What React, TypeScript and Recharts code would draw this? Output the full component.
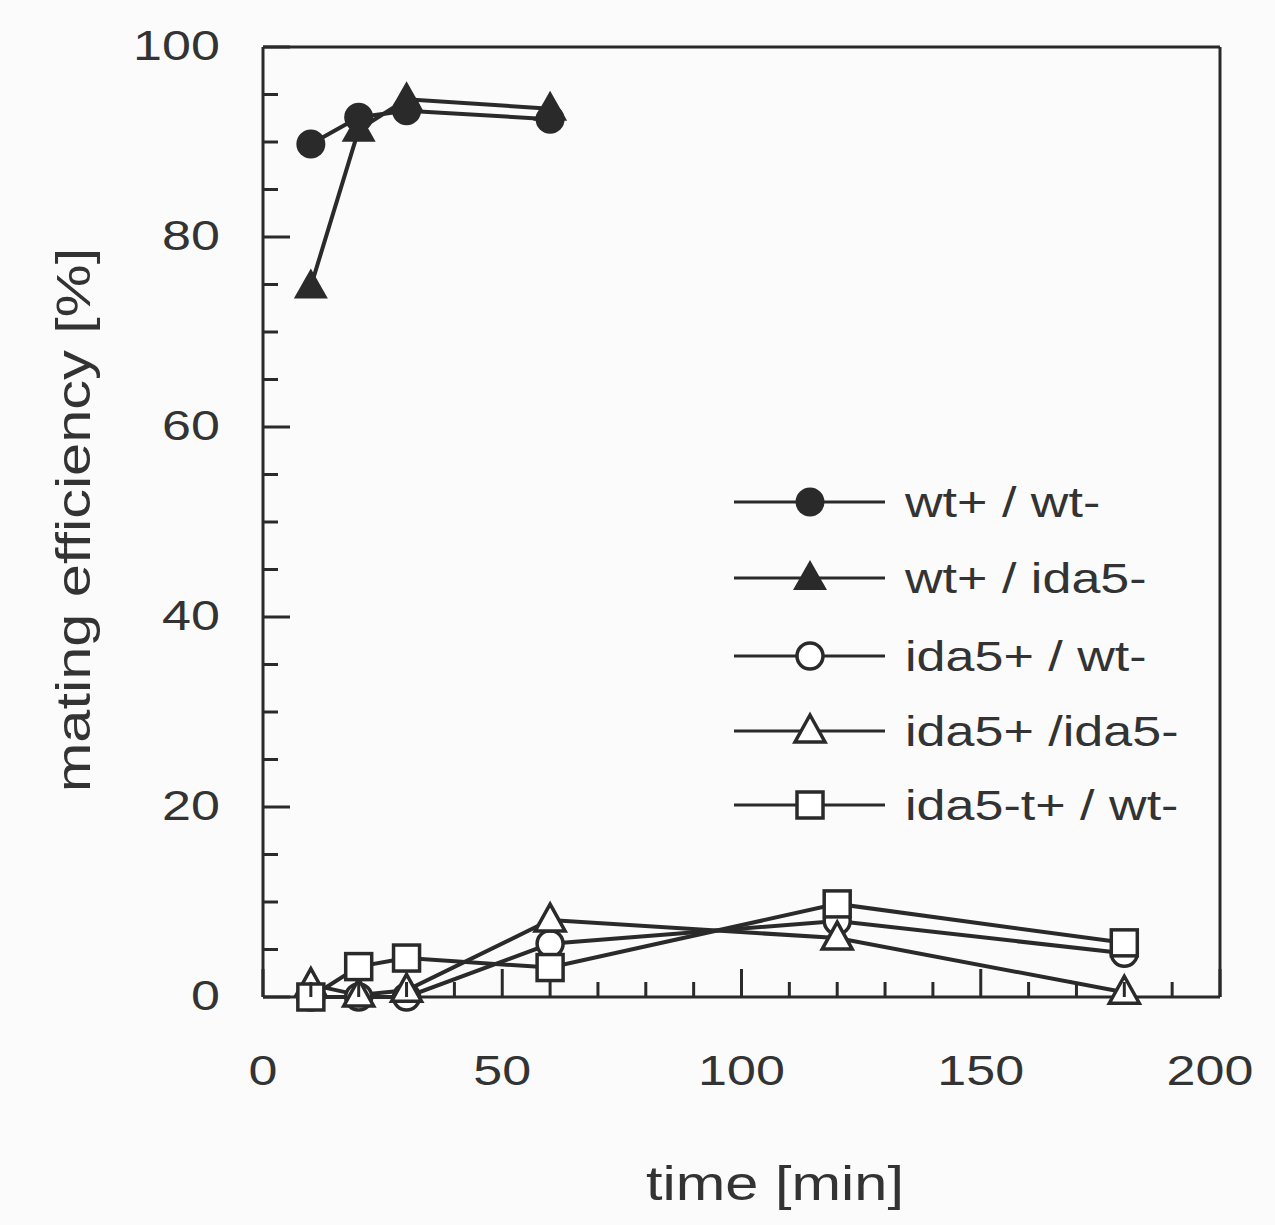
import React from 'react';
import { LineChart, Line, XAxis, YAxis, ReferenceLine } from 'recharts';

const INK = '#2a2a2a';
const TEXT = '#333';
const FONT = '"Liberation Sans", Arial, sans-serif';
const STRETCH = 1.24;

// sampling times [min]
const shortTimes = [10, 20, 30, 60];
const longTimes = [10, 20, 30, 60, 120, 180];

// mating efficiency [%]
const wtPlusWtMinus = [89.8, 92.6, 93.3, 92.4];
const wtPlusIda5Minus = [74.8, 91.3, 94.5, 93.5];
const ida5PlusWtMinus = [0, 0, 0, 5.6, 8.0, 4.6];
const ida5PlusIda5Minus = [1.3, 0.2, 0.7, 8.1, 6.2, 0.5];
const ida5tPlusWtMinus = [0, 3.2, 4.1, 3.1, 9.8, 5.7];

const xTicks = [0, 10, 20, 30, 40, 50, 60, 70, 80, 90, 100, 110, 120, 130, 140, 150, 160, 170, 180, 190, 200];
const xLabels = [0, 50, 100, 150, 200];
const yTicks = [0, 5, 10, 15, 20, 25, 30, 35, 40, 45, 50, 55, 60, 65, 70, 75, 80, 85, 90, 95, 100];
const yLabels = [0, 20, 40, 60, 80, 100];

type Shape = 'dot' | 'tri' | 'circle' | 'openTri' | 'square';

const series: { name: string; shape: Shape; times: number[]; values: number[] }[] = [
  { name: 'wt+ / wt-', shape: 'dot', times: shortTimes, values: wtPlusWtMinus },
  { name: 'wt+ / ida5-', shape: 'tri', times: shortTimes, values: wtPlusIda5Minus },
  { name: 'ida5+ / wt-', shape: 'circle', times: longTimes, values: ida5PlusWtMinus },
  { name: 'ida5+ /ida5-', shape: 'openTri', times: longTimes, values: ida5PlusIda5Minus },
  { name: 'ida5-t+ / wt-', shape: 'square', times: longTimes, values: ida5tPlusWtMinus },
];

function toRows(times: number[], values: number[]) {
  return times.map((t, i) => ({ t, v: values[i] }));
}

function Marker({ shape, cx, cy }: { shape: Shape; cx: number; cy: number }) {
  switch (shape) {
    case 'dot':
      return <circle cx={cx} cy={cy} r={14.5} fill={INK} />;
    case 'tri':
      return <polygon points={`${cx},${cy - 18} ${cx - 17},${cy + 12} ${cx + 17},${cy + 12}`} fill={INK} />;
    case 'circle':
      return <circle cx={cx} cy={cy} r={13} fill="#fff" stroke={INK} strokeWidth={3.5} />;
    case 'openTri':
      return (
        <polygon
          points={`${cx},${cy - 16} ${cx - 15},${cy + 11} ${cx + 15},${cy + 11}`}
          fill="#fff"
          stroke={INK}
          strokeWidth={3.5}
        />
      );
    default:
      return <rect x={cx - 13} y={cy - 13} width={26} height={26} fill="#fff" stroke={INK} strokeWidth={3.5} />;
  }
}

function Label({ x, y, size, anchor, rotate, children }: any) {
  const tf = `translate(${x} ${y})${rotate ? ` rotate(${rotate})` : ''} scale(${STRETCH} 1)`;
  return (
    <text transform={tf} textAnchor={anchor} fontSize={size} fontFamily={FONT} fill={TEXT}>
      {children}
    </text>
  );
}

function XTick({ x, y, payload }: any) {
  const v = payload.value;
  const major = v % 50 === 0;
  return (
    <g>
      <line x1={x} x2={x} y1={y} y2={y - (major ? 28 : 15)} stroke={INK} strokeWidth={3} />
      {xLabels.includes(v) && (
        <Label x={v === 200 ? x - 10 : x} y={y + 88} size={42} anchor="middle">
          {v}
        </Label>
      )}
    </g>
  );
}

function YTick({ x, y, payload }: any) {
  const v = payload.value;
  const major = v % 20 === 0;
  return (
    <g>
      <line x1={x} x2={x + (major ? 27 : 15)} y1={y} y2={y} stroke={INK} strokeWidth={3} />
      {yLabels.includes(v) && (
        <Label x={x - 43} y={y + 13} size={42} anchor="end">
          {v}
        </Label>
      )}
    </g>
  );
}

function LegendBox() {
  const rows = [502, 578, 656, 731, 805];
  return (
    <svg width={1275} height={1225} style={{ position: 'absolute', left: 0, top: 0, pointerEvents: 'none' }}>
      {series.map((s, i) => (
        <g key={s.name}>
          <line x1={734} x2={885} y1={rows[i]} y2={rows[i]} stroke={INK} strokeWidth={3} />
          <Marker shape={s.shape} cx={810} cy={rows[i]} />
          <Label x={905} y={rows[i] + 15} size={42} anchor="start">
            {s.name}
          </Label>
        </g>
      ))}
    </svg>
  );
}

export default function App() {
  return (
    <div style={{ position: 'absolute', left: 0, top: 0, width: 1275, height: 1225, background: '#fbfbfb' }}>
      <LineChart width={1275} height={1225} margin={{ top: 47, right: 55, left: 0, bottom: 0 }}>
        <XAxis
          type="number"
          dataKey="t"
          domain={[0, 200]}
          ticks={xTicks}
          interval={0}
          height={228}
          tickSize={0}
          tickMargin={0}
          tick={<XTick />}
          axisLine={{ stroke: INK, strokeWidth: 3 }}
          allowDuplicatedCategory={false}
        />
        <YAxis
          type="number"
          domain={[0, 100]}
          ticks={yTicks}
          interval={0}
          width={263}
          tickSize={0}
          tickMargin={0}
          tick={<YTick />}
          axisLine={{ stroke: INK, strokeWidth: 3 }}
        />
        <ReferenceLine y={100} stroke={INK} strokeWidth={3} />
        <ReferenceLine x={200} stroke={INK} strokeWidth={3} />
        {series.map((s) => (
          <Line
            key={s.name}
            data={toRows(s.times, s.values)}
            dataKey="v"
            name={s.name}
            type="linear"
            stroke={INK}
            strokeWidth={4}
            isAnimationActive={false}
            activeDot={false}
            dot={(p: any) => <Marker key={`${s.shape}-${p.index}`} shape={s.shape} cx={p.cx} cy={p.cy} />}
          />
        ))}
      </LineChart>
      <svg width={1275} height={1225} style={{ position: 'absolute', left: 0, top: 0, pointerEvents: 'none' }}>
        <Label x={775} y={1200} size={48} anchor="middle">
          time [min]
        </Label>
        <Label x={90} y={520} size={48} anchor="middle" rotate={-90}>
          mating efficiency [%]
        </Label>
      </svg>
      <LegendBox />
    </div>
  );
}
